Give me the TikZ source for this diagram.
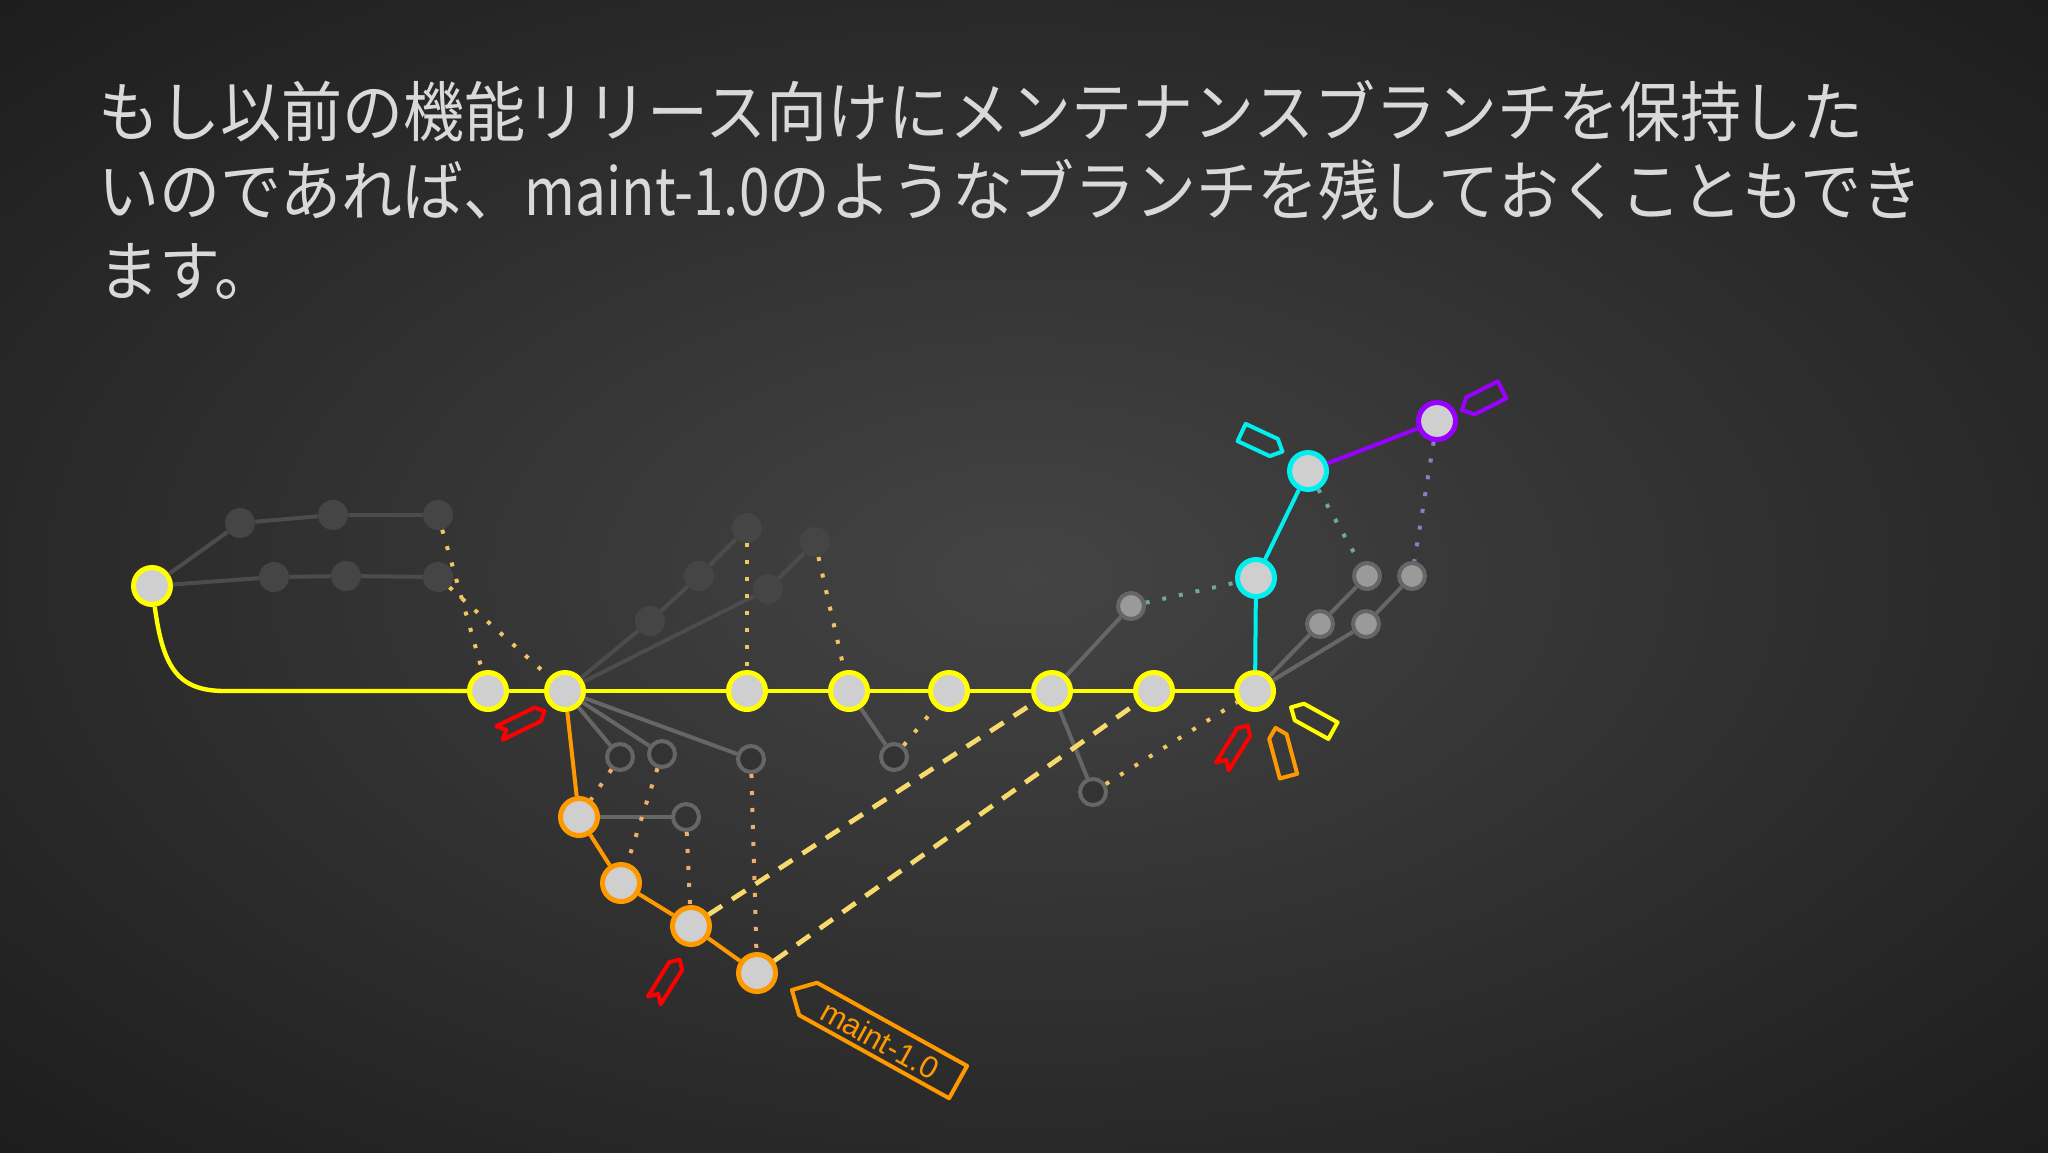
\documentclass[tikz,border=0pt]{standalone}
\usepackage{fontspec}
\newfontfamily\jpfont[FakeStretch=0.93]{Noto Sans CJK JP}
\newfontfamily\tagfont{Liberation Sans}
\usepackage{tikz}
\tikzset{>=latex}

\definecolor{slidetext}{HTML}{D9D9D9}
\definecolor{mainyellow}{HTML}{FFFF00}
\definecolor{maintorange}{HTML}{FF9900}
\definecolor{topiccyan}{HTML}{00F0F0}
\definecolor{topicpurple}{HTML}{9900FF}
\definecolor{tagred}{HTML}{FF0000}
\definecolor{commitfill}{HTML}{CFCFCF}
\definecolor{oldgray}{HTML}{454545}
\definecolor{oldline}{HTML}{4C4C4C}
\definecolor{midline}{HTML}{666666}
\definecolor{holefill}{HTML}{333333}
\definecolor{litegray}{HTML}{9A9A9A}
\definecolor{dotyellow}{HTML}{F2C462}
\definecolor{dotorange}{HTML}{EFAE6C}
\definecolor{dashyellow}{HTML}{F7D96C}
\definecolor{dotteal}{HTML}{6FA5A5}
\definecolor{dotpurple}{HTML}{8A7CC8}
\definecolor{bgin}{HTML}{444444}
\definecolor{bgmid}{HTML}{303030}
\definecolor{bgedge}{HTML}{1A1A1A}
\definecolor{bgout}{HTML}{0D0D0D}

\pgfdeclareradialshading{slideglow}{\pgfpoint{0bp}{0bp}}{color(0bp)=(bgin); color(18bp)=(bgmid); color(38bp)=(bgedge); color(55bp)=(bgout); color(75bp)=(bgout)}

\tikzset{
  slidetitle/.style={text=slidetext, font=\jpfont\fontsize{32.8}{40}\selectfont, inner sep=0pt, anchor=base west},
  commit/.style={circle, fill=commitfill, line width=2.5pt, minimum size=18.5pt, inner sep=0pt},
  ycommit/.style={commit, draw=mainyellow},
  ocommit/.style={commit, draw=maintorange},
  ccommit/.style={commit, draw=topiccyan},
  pcommit/.style={commit, draw=topicpurple},
  oldcommit/.style={circle, fill=oldgray, minimum size=15pt, inner sep=0pt},
  holecommit/.style={circle, fill=holefill, draw=midline, line width=2pt, minimum size=13pt, inner sep=0pt},
  litecommit/.style={circle, fill=litegray, draw=midline, line width=2pt, minimum size=13pt, inner sep=0pt},
  ybranch/.style={draw=mainyellow, line width=2.2pt},
  obranch/.style={draw=maintorange, line width=2pt},
  cbranch/.style={draw=topiccyan, line width=2pt},
  pbranch/.style={draw=topicpurple, line width=2pt},
  oldedge/.style={draw=oldline, line width=2pt},
  grayedge/.style={draw=midline, line width=2pt},
  dotline/.style={line width=2pt, dash pattern=on 2pt off 6.5pt},
  rebaseline/.style={draw=dashyellow, line width=2.4pt, dash pattern=on 8pt off 6pt},
  tagline/.style={line width=2pt, line join=round},
}

% house shaped branch label: style, centre, angle, length, width
\newcommand{\branchtag}[5]{%
  \draw[tagline, #1, shift={#2}, rotate=#3] (#4/2,0) -- (#4/2-#5/2,#5/2) -- (-#4/2,#5/2)
    -- (-#4/2,-#5/2) -- (#4/2-#5/2,-#5/2) -- cycle;}
% notched release label
\newcommand{\releasetag}[5]{%
  \draw[tagline, #1, shift={#2}, rotate=#3] (#4/2,0) -- (#4/2-#5/2,#5/2) -- (-#4/2,#5/2)
    -- (-#4/2+#5/2,0) -- (-#4/2,-#5/2) -- (#4/2-#5/2,-#5/2) -- cycle;}

\begin{document}
\begin{tikzpicture}[x=0.5pt, y=-0.5pt]

    \useasboundingbox (0,0) rectangle (2048,1152);
    \shade[shading=slideglow] (0,0) rectangle (2048,1152);

    % Title
    \node[slidetitle] (title1) at (98,136) {もし以前の機能リリース向けにメンテナンスブランチを保持した};
    \node[slidetitle] (title2) at (98,215) {いのであれば、\scalebox{0.9}[1]{maint-1.0}のようなブランチを残しておくこともでき};
    \node[slidetitle] (title3) at (98,295) {ます。};

    % Main line
    \node[ycommit] (root) at (152,586) {};
    \foreach \name/\xpos in {n1/488, n2/565, n3/747, n4/849, n5/949, n6/1052, n7/1154, n8/1255}{
        \node[ycommit] (\name) at (\xpos,691) {};
    }

    % Maintenance branch
    \node[ocommit] (o1) at (579,817) {};
    \node[ocommit] (o2) at (621,883) {};
    \node[ocommit] (o3) at (691,926) {};
    \node[ocommit] (o4) at (757,973) {};

    % Topic branches
    \node[ccommit] (c1) at (1256,578) {};
    \node[ccommit] (c2) at (1308,471) {};
    \node[pcommit] (p1) at (1437,421) {};

    % Faded commits
    \foreach \name/\pos in {a1/{(240,523)}, a2/{(333,515)}, a3/{(438,515)},
                            b1/{(274,577)}, b2/{(346,576)}, b3/{(438,577)},
                            d1/{(650,621)}, d2/{(699,576)}, d3/{(747,528)},
                            e1/{(768,589)}, e2/{(815,542)}}{
        \node[oldcommit] (\name) at \pos {};
    }
    \foreach \name/\pos in {h1/{(620,757)}, h2/{(662,754)}, h3/{(751,759)}, h4/{(686,817)},
                            h5/{(894,757)}, h6/{(1093,792)}}{
        \node[holecommit] (\name) at \pos {};
    }
    \foreach \name/\pos in {l1/{(1131,606)}, l2/{(1320,624)}, l3/{(1367,576)},
                            l4/{(1366,624)}, l5/{(1412,576)}}{
        \node[litecommit] (\name) at \pos {};
    }

    % Edges
    \coordinate (rootbend) at (225,691);
    \draw[ybranch] (root) .. controls (163,668) and (178,691) .. (rootbend) -- (n1);
    \foreach \a/\b in {n1/n2, n2/n3, n3/n4, n4/n5, n5/n6, n6/n7, n7/n8}{
        \draw[ybranch] (\a) -- (\b);
    }
    \draw[obranch] (n2) -- (o1) -- (o2) -- (o3) -- (o4);
    \draw[cbranch] (n8) -- (c1) -- (c2);
    \draw[pbranch] (c2) -- (p1);

    \draw[oldedge] (root) -- (a1) -- (a2) -- (a3);
    \draw[oldedge] (root) -- (b1) -- (b2) -- (b3);
    \draw[oldedge] (n2) -- (d1) -- (d2) -- (d3);
    \draw[oldedge] (n2) -- (e1) -- (e2);

    \foreach \a/\b in {n2/h1, n2/h2, n2/h3, o1/h4, n4/h5, n6/h6, n6/l1,
                       n8/l2, l2/l3, n8/l4, l4/l5}{
        \draw[grayedge] (\a) -- (\b);
    }

    % Dotted links
    \foreach \a/\b in {a3/n1, b3/n2, d3/n3, e2/n4, h5/n5, h6/n8}{
        \draw[dotline, dotyellow] (\a) -- (\b);
    }
    \foreach \a/\b in {h1/o1, h2/o2, h4/o3, h3/o4}{
        \draw[dotline, dotorange] (\a) -- (\b);
    }
    \draw[dotline, dotteal] (l1) -- (c1);
    \draw[dotline, dotteal] (c2) -- (l3);
    \draw[dotline, dotpurple] (p1) -- (l5);

    % Dashed links
    \draw[rebaseline] (o3) -- (n6);
    \draw[rebaseline] (o4) -- (n7);

    % Labels
    \releasetag{tagred}{(522,722)}{26}{50}{15}
    \releasetag{tagred}{(667,980)}{58}{48}{15}
    \releasetag{tagred}{(1235,746)}{58}{48}{15}
    \branchtag{maintorange}{(1282,752)}{105}{50}{18}
    \branchtag{mainyellow}{(1312,719)}{151}{48}{19}
    \branchtag{topiccyan}{(1262,442)}{-25}{45}{19}
    \branchtag{topicpurple}{(1482,400)}{-153}{45}{19}
    \branchtag{maintorange}{(875,1036)}{151}{190}{37}
    \node[rotate=-29, text=maintorange, font=\tagfont\fontsize{15.5}{17}\selectfont] (mainttext) at (880,1040) {maint-1.0};

\end{tikzpicture}
\end{document}
